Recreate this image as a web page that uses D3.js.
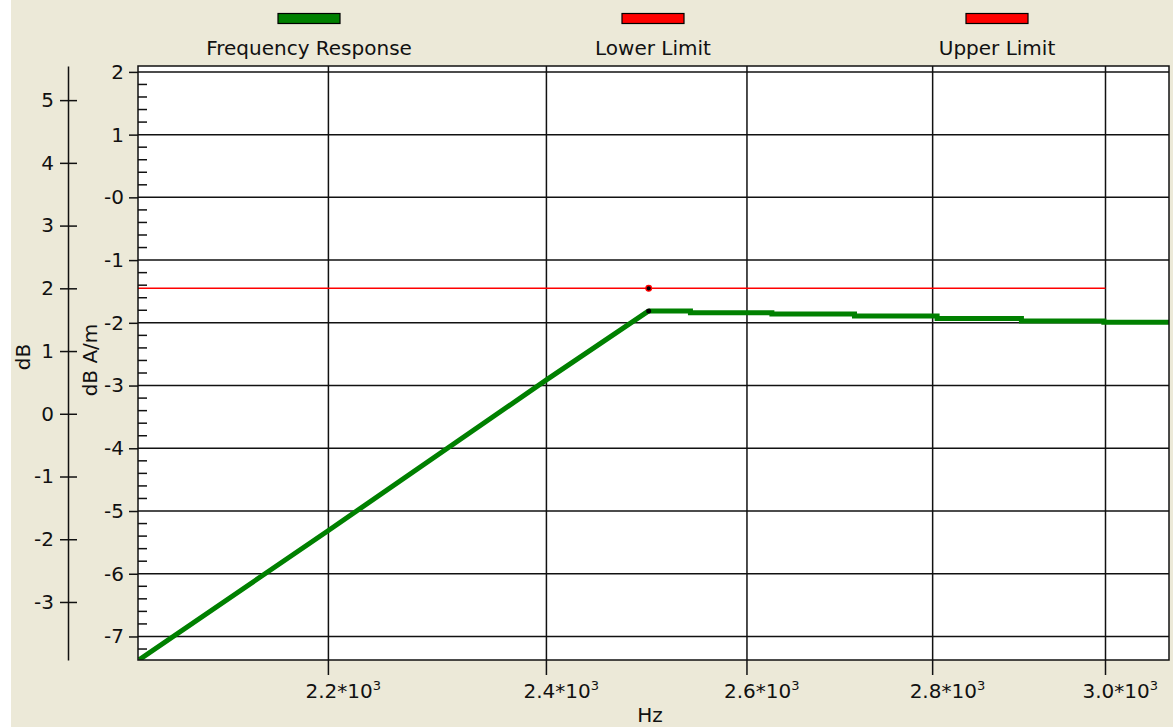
<!DOCTYPE html>
<html>
<head>
<meta charset="utf-8">
<script src="https://cdn.jsdelivr.net/npm/d3@7"></script>
<style>
  body { margin: 0; background: #ece9d8; }
  svg { display: block; font-family: "DejaVu Sans", sans-serif; }
</style>
</head>
<body>
<svg id="chart"></svg>
<script>
// frequency response (Hz, dB A/m)
const respFreq = [2040, 2200, 2400, 2500, 2542, 2626, 2714, 2805, 2901, 2998, 3080];
const respVal = [-7.37, -5.31, -2.91, -1.81, -1.84, -1.86, -1.89, -1.93, -1.97, -1.99, -2.02];
const peakIndex = 3; // rise is drawn straight, after that the curve steps

// lower limit, on the outer dB axis
const limitFreq = [2000, 3000];
const lowerLimit = [2, 2];
const markerFreq = 2500;

const xTicks = [2200, 2400, 2600, 2800, 3000];
const xTickMantissa = ["2.2", "2.4", "2.6", "2.8", "3.0"];
const yTicks = [-7, -6, -5, -4, -3, -2, -1, 0, 1, 2];
const dbTicks = [-3, -2, -1, 0, 1, 2, 3, 4, 5];

const legendNames = ["Frequency Response", "Lower Limit", "Upper Limit"];
const legendColors = ["#008000", "#ff0000", "#ff0000"];

const width = 1173;
const height = 727;
const plot = { left: 138, right: 1169, top: 66, bottom: 660 };
const dbOffset = 3.45;
const fontSize = "20px";
const ink = "#111";

const svg = d3.select("#chart").attr("width", width).attr("height", height);

// background: thin white strip on the left, beige elsewhere
svg.append("rect").attr("width", width).attr("height", height).attr("fill", "#ece9d8");
svg.append("rect").attr("width", 11).attr("height", height).attr("fill", "#fff");

const xScale = d3.scaleLog().domain([2039, 3077]).range([plot.left, plot.right]);
const yScale = d3.scaleLinear().domain([-7.375, 2.094]).range([plot.bottom, plot.top]);
const dbScale = d3
  .scaleLinear()
  .domain(yScale.domain().map((d) => d + dbOffset))
  .range([plot.bottom, plot.top]);

// plot area
svg
  .append("rect")
  .attr("x", plot.left)
  .attr("y", plot.top)
  .attr("width", plot.right - plot.left)
  .attr("height", plot.bottom - plot.top)
  .attr("fill", "#fff");

svg
  .append("clipPath")
  .attr("id", "clip")
  .append("rect")
  .attr("x", plot.left)
  .attr("y", plot.top)
  .attr("width", plot.right - plot.left)
  .attr("height", plot.bottom - plot.top);

// grid
const grid = svg.append("g").attr("stroke", ink).attr("stroke-width", 1.5);
grid
  .selectAll(".hgrid")
  .data(yTicks)
  .enter()
  .append("line")
  .attr("x1", plot.left)
  .attr("x2", plot.right)
  .attr("y1", (d) => yScale(d))
  .attr("y2", (d) => yScale(d));
grid
  .selectAll(".vgrid")
  .data(xTicks)
  .enter()
  .append("line")
  .attr("x1", (d) => xScale(d))
  .attr("x2", (d) => xScale(d))
  .attr("y1", plot.top)
  .attr("y2", plot.bottom + 15);

// y axis (dB A/m)
const yAxis = svg
  .append("g")
  .attr("transform", `translate(${plot.left},0)`)
  .call(
    d3
      .axisLeft(yScale)
      .tickValues(yTicks)
      .tickSizeInner(9)
      .tickSizeOuter(0)
      .tickFormat((d) => (d === 0 ? "-0" : String(d)))
  );
yAxis.select(".domain").remove();
yAxis.selectAll("line").attr("stroke", ink).attr("stroke-width", 1.5);
yAxis
  .selectAll("text")
  .attr("x", -14)
  .style("font-size", fontSize)
  .style("font-family", "DejaVu Sans")
  .attr("fill", ink);

// minor ticks every 0.2 inside the plot
const minor = d3
  .range(-36, 11)
  .filter((i) => i % 5 !== 0)
  .map((i) => i / 5);
svg
  .append("g")
  .selectAll("line")
  .data(minor)
  .enter()
  .append("line")
  .attr("x1", plot.left)
  .attr("x2", plot.left + 9)
  .attr("y1", (d) => yScale(d))
  .attr("y2", (d) => yScale(d))
  .attr("stroke", ink)
  .attr("stroke-width", 1.5);

// outer dB axis
const dbAxis = svg
  .append("g")
  .attr("transform", "translate(68,0)")
  .call(
    d3
      .axisLeft(dbScale)
      .tickValues(dbTicks)
      .tickSizeInner(8)
      .tickSizeOuter(0)
      .tickFormat((d) => String(d))
  );
dbAxis.select(".domain").attr("stroke", ink).attr("stroke-width", 1.5);
dbAxis.selectAll(".tick line").attr("x1", 9).attr("stroke", ink).attr("stroke-width", 1.5);
dbAxis
  .selectAll("text")
  .attr("x", -14)
  .style("font-size", fontSize)
  .style("font-family", "DejaVu Sans")
  .attr("fill", ink);

// x tick labels like 2.2*10³
const xLabels = svg
  .append("g")
  .selectAll("text")
  .data(xTicks)
  .enter()
  .append("text")
  .attr("x", (d) => xScale(d) - 23)
  .attr("y", 698)
  .attr("fill", ink)
  .style("font-size", fontSize);
xLabels.append("tspan").text((d, i) => xTickMantissa[i] + "*10");
xLabels.append("tspan").attr("dy", -8).style("font-size", "13px").text("3");

// axis titles
svg
  .append("text")
  .attr("text-anchor", "middle")
  .attr("transform", "translate(650,722)")
  .style("font-size", fontSize)
  .attr("fill", ink)
  .text("Hz");
svg
  .append("text")
  .attr("text-anchor", "middle")
  .attr("transform", "translate(30,357) rotate(-90)")
  .style("font-size", fontSize)
  .attr("fill", ink)
  .text("dB");
svg
  .append("text")
  .attr("text-anchor", "middle")
  .attr("transform", "translate(97,360) rotate(-90)")
  .style("font-size", fontSize)
  .attr("fill", ink)
  .text("dB A/m");

const chart = svg.append("g").attr("clip-path", "url(#clip)");

// lower limit line
chart
  .append("path")
  .datum(limitFreq.map((f, i) => [f, lowerLimit[i]]))
  .attr("fill", "none")
  .attr("stroke", "#ff0000")
  .attr("stroke-width", 1.5)
  .attr(
    "d",
    d3
      .line()
      .x((d) => xScale(d[0]))
      .y((d) => dbScale(d[1]))
  );

// frequency response: straight rise, then stepped
const resp = respFreq.map((f, i) => [f, respVal[i]]);
const lineGen = d3
  .line()
  .x((d) => xScale(d[0]))
  .y((d) => yScale(d[1]));
chart
  .append("path")
  .datum(resp.slice(0, peakIndex + 1))
  .attr("fill", "none")
  .attr("stroke", "#008000")
  .attr("stroke-width", 5)
  .attr("d", lineGen);
chart
  .append("path")
  .datum(resp.slice(peakIndex))
  .attr("fill", "none")
  .attr("stroke", "#008000")
  .attr("stroke-width", 5)
  .attr("d", lineGen.curve(d3.curveStepAfter));

// markers at the peak
chart
  .append("circle")
  .attr("cx", xScale(markerFreq))
  .attr("cy", dbScale(lowerLimit[0]))
  .attr("r", 2.8)
  .attr("fill", "#000")
  .attr("stroke", "#ff0000")
  .attr("stroke-width", 1.3);
chart
  .append("circle")
  .attr("cx", xScale(markerFreq))
  .attr("cy", yScale(respVal[peakIndex]))
  .attr("r", 2.5)
  .attr("fill", "#000");

// plot border
svg
  .append("rect")
  .attr("x", plot.left)
  .attr("y", plot.top)
  .attr("width", plot.right - plot.left)
  .attr("height", plot.bottom - plot.top)
  .attr("fill", "none")
  .attr("stroke", ink)
  .attr("stroke-width", 1.5);

// legend
const legendX = [309, 653, 997];
const legend = svg
  .append("g")
  .selectAll("g")
  .data(legendNames)
  .enter()
  .append("g")
  .attr("transform", (d, i) => `translate(${legendX[i]},0)`);
legend
  .append("rect")
  .attr("x", -31)
  .attr("y", 13.5)
  .attr("width", 62)
  .attr("height", 10)
  .attr("fill", (d, i) => legendColors[i])
  .attr("stroke", "#000")
  .attr("stroke-width", 1.2);
legend
  .append("text")
  .attr("text-anchor", "middle")
  .attr("y", 55)
  .attr("fill", ink)
  .style("font-size", fontSize)
  .text((d) => d);
</script>
</body>
</html>
